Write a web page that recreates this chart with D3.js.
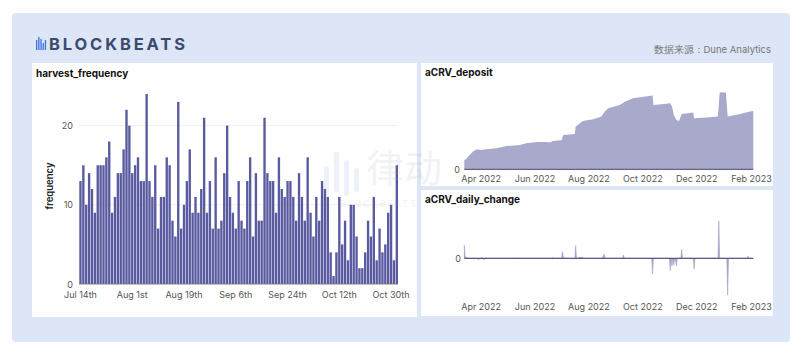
<!DOCTYPE html>
<html>
<head>
<meta charset="utf-8">
<script src="https://cdn.jsdelivr.net/npm/d3@7"></script>
<style>
  body { margin: 0; background: #ffffff; }
  text { font-family: Inter, "Noto Sans", sans-serif; }
</style>
</head>
<body>
<div id="chart"></div>
<script>
// harvest_frequency: one bar per day, Jul 14th .. Nov 1st 2022
var freqStart = "2022-07-14";
var freqValues = [
  13,15,10,14,12,9,15,15,15,16,
  18,9,11,14,14,17,22,20,14,15,
  16,13,13,24,13,11,15,7,11,11,
  16,15,8,6,23,7,10,13,17,9,
  11,9,12,21,9,13,7,16,7,8,
  14,20,11,9,7,13,8,7,13,16,
  6,14,8,8,21,14,13,13,9,16,
  12,11,13,13,11,8,14,11,8,16,
  9,6,11,8,13,12,11,4,1,4,
  11,5,8,3,10,10,6,2,2,4,
  8,6,11,3,7,4,5,9,10,3,
  15
];
var freqTicks = [0, 10, 20];

// aCRV_deposit (thousand aCRV)
var depositData = [
  ["2022-03-13", 93], ["2022-03-15", 100], ["2022-03-17", 125], ["2022-03-19", 143],
  ["2022-03-23", 177], ["2022-03-27", 200], ["2022-03-31", 193], ["2022-04-07", 200],
  ["2022-04-18", 210], ["2022-04-30", 233], ["2022-05-15", 243], ["2022-05-22", 260],
  ["2022-06-03", 273], ["2022-06-14", 273], ["2022-06-18", 267], ["2022-06-21", 283],
  ["2022-07-01", 290], ["2022-07-03", 343], ["2022-07-16", 353], ["2022-07-17", 427],
  ["2022-07-25", 483], ["2022-08-06", 500], ["2022-08-15", 527], ["2022-08-19", 577],
  ["2022-08-23", 610], ["2022-09-05", 643], ["2022-09-11", 677], ["2022-09-20", 710],
  ["2022-09-28", 720], ["2022-10-12", 737], ["2022-10-13", 643], ["2022-10-25", 653],
  ["2022-11-01", 660], ["2022-11-03", 627], ["2022-11-05", 543], ["2022-11-08", 493],
  ["2022-11-11", 483], ["2022-11-14", 553], ["2022-11-27", 567], ["2022-11-28", 510],
  ["2022-12-12", 517], ["2022-12-25", 527], ["2022-12-27", 770], ["2023-01-03", 767],
  ["2023-01-05", 527], ["2023-01-18", 550], ["2023-01-30", 577], ["2023-02-03", 583]
];

// aCRV_daily_change (thousand aCRV)
var changeData = [
  ["2022-03-13", 85], ["2022-03-14", 15], ["2022-03-15", 5], ["2022-03-17", 0],
  ["2022-03-27", 0], ["2022-03-29", -8], ["2022-03-31", 0], ["2022-04-02", 6],
  ["2022-04-04", -10], ["2022-04-06", 4], ["2022-04-08", 0], ["2022-05-10", 0],
  ["2022-05-11", 4], ["2022-05-12", 0], ["2022-06-20", 0], ["2022-06-21", 5],
  ["2022-06-22", 0], ["2022-07-01", 0], ["2022-07-02", 44], ["2022-07-03", 12],
  ["2022-07-04", 0], ["2022-07-14", 0], ["2022-07-15", -6], ["2022-07-16", 0],
  ["2022-07-17", 83], ["2022-07-18", 0], ["2022-07-22", 5], ["2022-07-24", 8],
  ["2022-07-26", 0], ["2022-08-16", 0], ["2022-08-18", 28], ["2022-08-19", 10],
  ["2022-08-20", 0], ["2022-09-08", 0], ["2022-09-09", 22], ["2022-09-10", 0],
  ["2022-10-11", 0], ["2022-10-12", -104], ["2022-10-13", 0], ["2022-10-31", 0],
  ["2022-11-01", -83], ["2022-11-02", 0], ["2022-11-03", -52], ["2022-11-04", 0],
  ["2022-11-05", -43], ["2022-11-06", 0], ["2022-11-07", -20], ["2022-11-08", -48],
  ["2022-11-09", 0], ["2022-11-13", 0], ["2022-11-14", 59], ["2022-11-15", 0],
  ["2022-11-27", 0], ["2022-11-28", -70], ["2022-11-29", 0], ["2022-12-25", 0],
  ["2022-12-26", 243], ["2022-12-27", 0], ["2023-01-04", 0], ["2023-01-05", -240],
  ["2023-01-06", 0], ["2023-01-27", 0], ["2023-01-28", 15], ["2023-01-29", 0],
  ["2023-02-03", 0]
];

var W = 802, H = 352;
var barColor = "#5a5aa0";
var areaColor = "#a9a9cc";
var baseColor = "#44446f";
var tickColor = "#555";
var tickSize = "9px";
var parseDate = d3.timeParse("%Y-%m-%d");

var svg = d3.select("#chart").append("svg").attr("width", W).attr("height", H);

// backdrop
svg.append("rect").attr("x", 12).attr("y", 13).attr("width", 778).attr("height", 329)
  .attr("rx", 4).attr("fill", "#dde6f6");

// logo
var logoBars = [10, 13, 11, 7, 10];
svg.append("g").selectAll("rect").data(logoBars).enter().append("rect")
  .attr("x", function(d, i) { return 36 + i * 2.2; })
  .attr("y", function(d) { return 50 - d; })
  .attr("width", 1.3).attr("height", function(d) { return d; })
  .attr("fill", "#3f6fe0");
svg.append("text").attr("x", 49).attr("y", 50)
  .attr("textLength", 136).attr("lengthAdjust", "spacing")
  .style("font-size", "16.5px").style("font-weight", 700).style("fill", "#3b4a6e")
  .text("BLOCKBEATS");
svg.append("text").attr("x", 771).attr("y", 53).attr("text-anchor", "end")
  .style("font-size", "9.5px").style("fill", "#777")
  .text("数据来源：Dune Analytics");

// faint watermark group, filled in at the end
var wm = svg.append("g").attr("opacity", 0.12);

// panels
var panels = [
  {x: 32, y: 63, w: 385, h: 254, title: "harvest_frequency", ty: 77},
  {x: 421, y: 63, w: 352, h: 123, title: "aCRV_deposit", ty: 76},
  {x: 421, y: 190, w: 352, h: 126, title: "aCRV_daily_change", ty: 203}
];
var panelG = svg.append("g");
panels.forEach(function(p) {
  panelG.append("rect").attr("x", p.x).attr("y", p.y).attr("width", p.w).attr("height", p.h)
    .attr("fill", "#fff");
  panelG.append("text").attr("x", p.x + 4).attr("y", p.ty)
    .style("font-size", "10px").style("font-weight", 700).style("fill", "#111")
    .text(p.title);
});

// ---- harvest_frequency bars
var d0 = parseDate(freqStart);
var freqDates = freqValues.map(function(v, i) { return d3.timeDay.offset(d0, i); });
function ordinal(n) {
  if (n % 100 >= 11 && n % 100 <= 13) return n + "th";
  return n + (["th","st","nd","rd"][n % 10] || "th");
}
var fmtMonth = d3.timeFormat("%b");
var xb = d3.scaleBand().domain(d3.range(freqValues.length)).range([79.3, 398]).paddingInner(0.18);
var yb = d3.scaleLinear().domain([0, 24.5]).range([284, 90]);

var g1 = svg.append("g");
g1.selectAll("line.grid").data(freqTicks).enter().append("line")
  .attr("x1", 79).attr("x2", 398)
  .attr("y1", function(d) { return yb(d); }).attr("y2", function(d) { return yb(d); })
  .attr("stroke", "#eeeeee");
g1.selectAll("rect.bar").data(freqValues).enter().append("rect")
  .attr("x", function(d, i) { return xb(i); })
  .attr("y", function(d) { return yb(d); })
  .attr("width", xb.bandwidth())
  .attr("height", function(d) { return yb(0) - yb(d); })
  .attr("fill", barColor);
g1.append("line").attr("x1", 79).attr("x2", 398).attr("y1", yb(0)).attr("y2", yb(0))
  .attr("stroke", "#777").attr("stroke-width", 0.8);
g1.selectAll("text.yt").data(freqTicks).enter().append("text")
  .attr("x", 73).attr("y", function(d) { return yb(d) + 3.5; }).attr("text-anchor", "end")
  .style("font-size", tickSize).style("fill", tickColor).text(function(d) { return d; });
var labelIdx = d3.range(0, freqValues.length, 18);
g1.selectAll("text.xt").data(labelIdx).enter().append("text")
  .attr("x", function(i) { return xb(i) + xb.bandwidth() / 2; }).attr("y", 297.5)
  .attr("text-anchor", "middle").style("font-size", tickSize).style("fill", tickColor)
  .text(function(i) { return fmtMonth(freqDates[i]) + " " + ordinal(freqDates[i].getDate()); });
g1.append("text").attr("transform", "translate(53,186) rotate(-90)")
  .attr("text-anchor", "middle").style("font-size", "9.5px").style("font-weight", 600)
  .style("fill", "#222").text("frequency");

// ---- shared time scale for right charts
var xt = d3.scaleTime().domain([parseDate("2022-03-13"), parseDate("2023-02-03")]).range([464.3, 753.3]);
var monthTicks = xt.ticks(d3.timeMonth.filter(function(d) { return d.getMonth() % 2 === 1; }));
var fmtTick = d3.timeFormat("%b %Y");

function xLabels(g, y) {
  g.selectAll("text.xt").data(monthTicks).enter().append("text")
    .attr("x", function(d) { return xt(d); }).attr("y", y)
    .attr("text-anchor", "middle").style("font-size", tickSize).style("fill", tickColor)
    .text(function(d) { return fmtTick(d); });
}

// ---- aCRV_deposit area
var yd = d3.scaleLinear().domain([0, 840]).range([169.3, 85.3]);
var dep = depositData.map(function(d) { return {date: parseDate(d[0]), value: d[1]}; });
var g2 = svg.append("g");
g2.append("path").datum(dep)
  .attr("d", d3.area().x(function(d) { return xt(d.date); }).y0(yd(0)).y1(function(d) { return yd(d.value); }))
  .attr("fill", areaColor);
g2.append("line").attr("x1", xt.range()[0]).attr("x2", xt.range()[1])
  .attr("y1", yd(0)).attr("y2", yd(0)).attr("stroke", baseColor).attr("stroke-width", 1);
g2.append("text").attr("x", 460).attr("y", yd(0) + 3.5).attr("text-anchor", "end")
  .style("font-size", tickSize).style("fill", tickColor).text("0");
xLabels(g2, 182);

// ---- aCRV_daily_change
var yc = d3.scaleLinear().domain([-270, 270]).range([299.7, 216.9]);
var chg = changeData.map(function(d) { return {date: parseDate(d[0]), value: d[1]}; });
var g3 = svg.append("g");
g3.append("path").datum(chg)
  .attr("d", d3.area().x(function(d) { return xt(d.date); }).y0(yc(0)).y1(function(d) { return yc(d.value); }))
  .attr("fill", areaColor).attr("stroke", "#9898c0").attr("stroke-width", 0.5);
g3.append("line").attr("x1", xt.range()[0]).attr("x2", xt.range()[1])
  .attr("y1", yc(0)).attr("y2", yc(0)).attr("stroke", baseColor).attr("stroke-width", 1);
g3.append("text").attr("x", 461).attr("y", yc(0) + 3.5).attr("text-anchor", "end")
  .style("font-size", tickSize).style("fill", tickColor).text("0");
xLabels(g3, 310);

// watermark on top, kept clear of the labels
wm.raise();
[30, 40, 36, 24].forEach(function(h, i) {
  wm.append("rect").attr("x", 324 + i * 10).attr("y", 196 - h - (i % 2) * 4)
    .attr("width", 5).attr("height", h).attr("rx", 2.5).attr("fill", "#6f8fd8");
});
wm.append("text").attr("x", 366).attr("y", 182).style("font-size", "38px")
  .style("font-family", "'Noto Sans CJK SC', sans-serif").style("fill", "#8a9ab8").text("律动");
wm.append("text").attr("x", 340).attr("y", 207).attr("textLength", 76).attr("lengthAdjust", "spacing")
  .style("font-size", "8.5px").style("fill", "#8a9ab8").text("BLOCKBEATS");
</script>
</body>
</html>
